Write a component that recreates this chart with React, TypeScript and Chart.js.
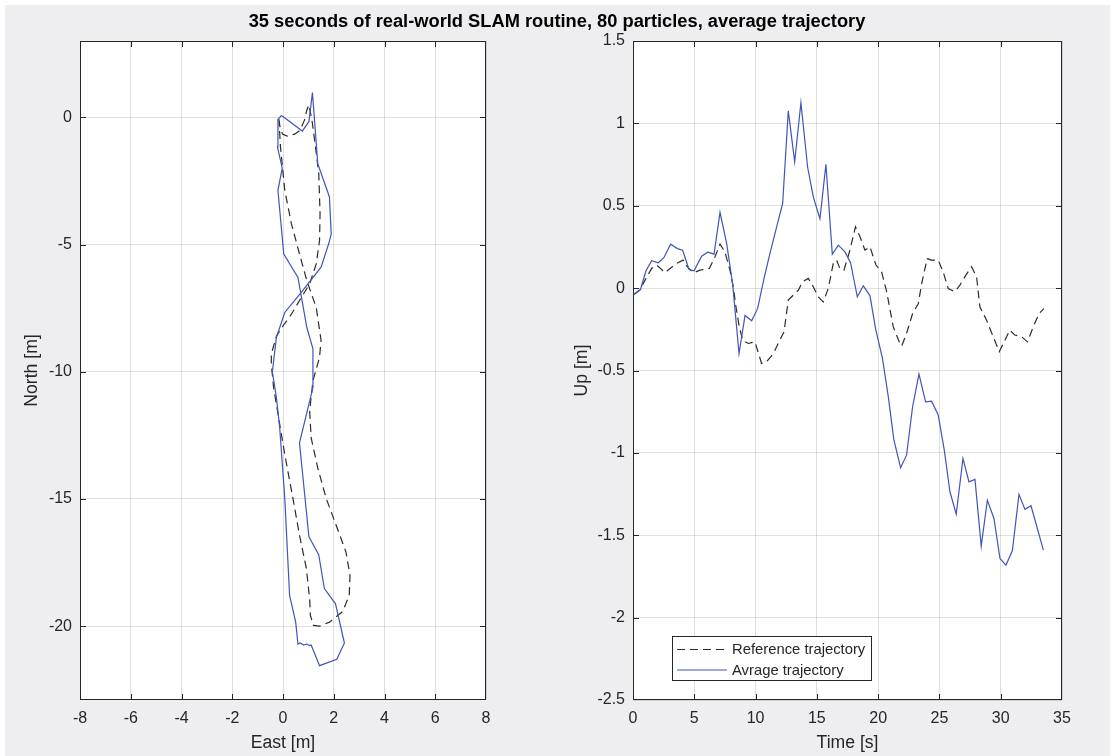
import React, { useEffect, useRef } from 'react';
import { Chart, registerables } from 'chart.js';

Chart.register(...registerables);

const FONT_FAMILY = '"Liberation Sans", Arial, Helvetica, sans-serif';
const AXIS_COLOR = '#262626';
const GRID_COLOR = 'rgba(38,38,38,0.15)';
const BLUE = '#4255b9';
const REF_COLOR = '#2b2b2b';
const FIG_BG = '#eeeef0';

const figureTitle = '35 seconds of real-world SLAM routine, 80 particles, average trajectory';
const legendLabels = ['Reference trajectory', 'Avrage trajectory'];

// ---------- Left subplot: East / North ----------
const refEast = [
  -0.16, -0.12, -0.02, 0.16, 0.46, 0.68, 0.85, 0.94, 1.02, 1.14, 1.28, 1.41, 1.46, 1.44, 1.31, 1.05,
  0.72, 0.33, 0.0, -0.26, -0.46, -0.46, -0.37, -0.13, 0.07, 0.39, 0.65, 0.92, 1.05, 1.08, 1.2, 1.44,
  1.83, 2.35, 2.61, 2.64, 2.48, 2.09, 1.7, 1.37, 1.11, 1.05, 1.18, 1.44, 1.5, 1.31, 0.94, 0.65, 0.33,
  0.07, -0.1, -0.16,
];
const refNorth = [
  -0.08, -0.37, -0.66, -0.74, -0.66, -0.5, -0.1, 0.29, 0.49, -0.1, -1.16, -2.21, -3.79, -4.84, -5.76, -6.55,
  -7.08, -7.74, -8.2, -8.6, -9.3, -9.7, -10.62, -12.07, -13.25, -14.97, -16.42, -17.73, -18.92, -19.58, -19.97, -20.0,
  -19.84, -19.42, -18.79, -18.0, -17.08, -16.02, -14.97, -13.78, -12.6, -11.54, -10.36, -9.43, -8.77, -7.47, -6.42, -5.37, -4.18,
  -2.87, -1.16, -0.08,
];
const avgEast = [
  -0.07, 0.04, 0.76, 1.02, 1.16, 1.37, 1.83, 1.9, 1.8, 1.5, 0.72, 0.07, -0.26, -0.42, -0.26, -0.13,
  0.07, 0.26, 0.5, 0.59, 0.68, 0.81, 0.94, 1.05, 1.11, 1.44, 2.12, 2.42, 2.07, 1.63, 1.41, 1.02,
  0.65, 1.18, 1.18, 0.94, 0.59, 0.03, -0.2, -0.03, -0.22, -0.2, -0.07,
];
const avgNorth = [
  0.07, 0.0, -0.54, -0.17, 0.97, -1.82, -3.13, -4.58, -4.97, -5.89, -6.88, -7.67, -8.65, -10.0, -11.0, -12.2,
  -14.97, -18.79, -19.84, -20.7, -20.66, -20.74, -20.7, -20.76, -20.74, -21.55, -21.3, -20.66, -19.12, -18.52, -17.2, -16.48,
  -12.79, -10.62, -9.1, -8.26, -6.29, -5.37, -2.87, -2.0, -1.16, -0.08, 0.07,
];
const eastTicks = [-8, -6, -4, -2, 0, 2, 4, 6, 8];
const northTicks = [-20, -15, -10, -5, 0];

// ---------- Right subplot: Time / Up ----------
const refTime = [
  0.05, 0.57, 1.06, 1.52, 1.93, 2.3, 2.61, 3.02, 3.56, 4.1, 4.38, 4.92, 5.46, 5.9, 6.23, 6.69, 7.1, 7.5,
  7.91, 8.18, 8.4, 8.67, 8.95, 9.41, 9.95, 10.49, 10.9, 11.45, 11.85, 12.32, 12.67, 13.08, 13.49, 13.84,
  14.3, 14.71, 15.12, 15.52, 15.93, 16.34, 16.61, 16.88, 17.21, 17.7, 18.15, 18.52, 18.92, 19.33, 19.82,
  20.28, 20.69, 21.23, 21.72, 21.92, 22.32, 22.81, 23.28, 23.55, 24.0, 24.36, 24.9, 25.3, 25.72, 26.26,
  26.67, 27.16, 27.62, 28.03, 28.3, 28.84, 29.39, 29.88, 30.34, 30.74, 31.15, 31.7, 32.19, 32.65, 33.14, 33.52,
];
const refUp = [
  -0.04, -0.008, 0.059, 0.119, 0.14, 0.115, 0.093, 0.119, 0.15, 0.17, 0.134, 0.093, 0.109, 0.115, 0.119, 0.19, 0.267, 0.22,
  0.109, 0.008, -0.113, -0.235, -0.316, -0.336, -0.326, -0.457, -0.447, -0.397, -0.336, -0.265, -0.073, -0.042, -0.012, 0.038,
  0.059, 0.008, -0.053, -0.083, -0.002, 0.15, 0.17, 0.119, 0.109, 0.231, 0.372, 0.312, 0.231, 0.251, 0.14,
  0.099, -0.02, -0.234, -0.326, -0.352, -0.275, -0.154, -0.093, 0.028, 0.179, 0.17, 0.17, 0.099, -0.002, -0.022,
  0.018, 0.079, 0.13, 0.069, -0.113, -0.194, -0.295, -0.386, -0.316, -0.255, -0.285, -0.295, -0.326, -0.235, -0.154, -0.124,
];
const avgTime = [
  0.05, 0.6, 1.06, 1.52, 2.07, 2.53, 3.07, 3.62, 4.05, 4.57, 4.98, 5.6, 6.09, 6.61, 7.1, 7.64, 8.13, 8.65,
  9.14, 9.68, 10.17, 10.69, 11.17, 11.72, 12.21, 12.67, 13.19, 13.7, 14.25, 14.71, 15.25, 15.74, 16.26, 16.75,
  17.29, 17.75, 18.3, 18.79, 19.33, 19.8, 20.35, 20.83, 21.28, 21.83, 22.32, 22.81, 23.33, 23.87, 24.36, 24.9,
  25.39, 25.86, 26.37, 26.92, 27.41, 27.9, 28.41, 28.91, 29.45, 29.94, 30.43, 30.95, 31.49, 31.98, 32.47, 32.99, 33.48,
];
const avgUp = [
  -0.04, -0.01, 0.105, 0.166, 0.154, 0.186, 0.267, 0.24, 0.23, 0.113, 0.105, 0.194, 0.218, 0.206, 0.459, 0.271, 0.024, -0.397,
  -0.166, -0.198, -0.123, 0.059, 0.21, 0.372, 0.514, 1.076, 0.767, 1.125, 0.732, 0.554, 0.421, 0.751, 0.206, 0.261,
  0.22, 0.154, -0.053, 0.014, -0.045, -0.25, -0.425, -0.66, -0.92, -1.09, -1.014, -0.72, -0.522, -0.69, -0.686, -0.77,
  -0.98, -1.236, -1.372, -1.034, -1.176, -1.161, -1.566, -1.287, -1.398, -1.641, -1.681, -1.594, -1.252, -1.343, -1.321, -1.459, -1.59,
];
const timeTicks = [0, 5, 10, 15, 20, 25, 30, 35];
const upTicks = [-2.5, -2, -1.5, -1, -0.5, 0, 0.5, 1, 1.5];

const TICK_LEN = 6;

const whiteAreaPlugin = {
  id: 'whiteArea',
  beforeDraw(chart: any) {
    const { ctx, chartArea: a } = chart;
    ctx.save();
    ctx.fillStyle = '#ffffff';
    ctx.fillRect(a.left, a.top, a.right - a.left, a.bottom - a.top);
    ctx.restore();
  },
};

const boxPlugin = {
  id: 'matlabBox',
  beforeDatasetsDraw(chart: any) {
    const { ctx, chartArea: a, scales } = chart;
    const xs = scales.x;
    const ys = scales.y;
    ctx.save();
    ctx.strokeStyle = AXIS_COLOR;
    ctx.lineWidth = 1;
    ctx.beginPath();
    xs.ticks.forEach((t: any) => {
      const px = Math.round(xs.getPixelForValue(t.value)) + 0.5;
      if (px < a.left + 2 || px > a.right - 2) return;
      ctx.moveTo(px, a.bottom);
      ctx.lineTo(px, a.bottom - TICK_LEN);
      ctx.moveTo(px, a.top);
      ctx.lineTo(px, a.top + TICK_LEN);
    });
    ys.ticks.forEach((t: any) => {
      const py = Math.round(ys.getPixelForValue(t.value)) + 0.5;
      if (py < a.top + 2 || py > a.bottom - 2) return;
      ctx.moveTo(a.left, py);
      ctx.lineTo(a.left + TICK_LEN, py);
      ctx.moveTo(a.right, py);
      ctx.lineTo(a.right - TICK_LEN, py);
    });
    ctx.stroke();
    ctx.strokeRect(a.left + 0.5, a.top + 0.5, a.right - a.left - 1, a.bottom - a.top - 1);
    ctx.restore();
  },
};

const legendPlugin = {
  id: 'matlabLegend',
  afterDraw(chart: any) {
    const { ctx, chartArea: a } = chart;
    const w = 200;
    const h = 45;
    const x0 = a.left + 39;
    const y0 = a.bottom - 19 - h;
    ctx.save();
    ctx.fillStyle = '#ffffff';
    ctx.fillRect(x0, y0, w, h);
    ctx.strokeStyle = AXIS_COLOR;
    ctx.lineWidth = 1;
    ctx.strokeRect(x0 + 0.5, y0 + 0.5, w - 1, h - 1);
    const items = [
      { label: legendLabels[0], color: REF_COLOR, dash: [8, 5] },
      { label: legendLabels[1], color: BLUE, dash: [] as number[] },
    ];
    items.forEach((it, i) => {
      const yy = y0 + 13.5 + i * 20.5;
      ctx.setLineDash(it.dash);
      ctx.strokeStyle = it.color;
      ctx.lineWidth = 1.2;
      ctx.beginPath();
      ctx.moveTo(x0 + 5, yy);
      ctx.lineTo(x0 + 55, yy);
      ctx.stroke();
      ctx.setLineDash([]);
      ctx.fillStyle = AXIS_COLOR;
      ctx.font = `14.8px ${FONT_FAMILY}`;
      ctx.textAlign = 'left';
      ctx.textBaseline = 'middle';
      ctx.fillText(it.label, x0 + 60, yy + 0.5);
    });
    ctx.restore();
  },
};

function makeScale(
  min: number,
  max: number,
  ticks: number[],
  title: string,
  horizontal: boolean,
  fixedSize: number,
  titlePad: number,
) {
  return {
    type: 'linear',
    position: horizontal ? 'bottom' : 'left',
    min,
    max,
    afterBuildTicks: (s: any) => {
      s.ticks = ticks.map((v) => ({ value: v }));
    },
    afterFit: (s: any) => {
      if (horizontal) s.height = fixedSize;
      else s.width = fixedSize;
    },
    grid: { color: GRID_COLOR, lineWidth: 1, drawTicks: false },
    border: { display: false },
    ticks: {
      padding: horizontal ? 9 : 8,
      color: AXIS_COLOR,
      font: { family: FONT_FAMILY, size: 16 },
      maxRotation: 0,
      autoSkip: false,
      callback: (v: any) => String(v),
    },
    title: {
      display: true,
      text: title,
      color: AXIS_COLOR,
      font: { family: FONT_FAMILY, size: 17.6 },
      padding: horizontal ? { top: 0, bottom: titlePad } : { top: titlePad, bottom: 0 },
    },
  };
}

function lineDataset(label: string, xs: number[], ys: number[], color: string, dash: number[], order: number) {
  return {
    label,
    data: xs.map((x, i) => ({ x, y: ys[i] })),
    showLine: true,
    borderColor: color,
    backgroundColor: color,
    borderWidth: 1.2,
    borderDash: dash,
    pointRadius: 0,
    tension: 0,
    fill: false,
    order,
  };
}

export default function App() {
  const leftRef = useRef<HTMLCanvasElement | null>(null);
  const rightRef = useRef<HTMLCanvasElement | null>(null);

  useEffect(() => {
    const common = {
      responsive: false,
      animation: false,
      devicePixelRatio: 1,
      events: [],
      plugins: { legend: { display: false }, tooltip: { enabled: false }, title: { display: false } },
    };
    const left = new Chart(leftRef.current as HTMLCanvasElement, {
      type: 'scatter',
      data: {
        datasets: [
          lineDataset(legendLabels[1], avgEast, avgNorth, BLUE, [], 0),
          lineDataset(legendLabels[0], refEast, refNorth, REF_COLOR, [8, 5], 1),
        ],
      },
      options: {
        ...common,
        layout: { padding: { left: 0, top: 41, right: 71, bottom: 0 } },
        scales: {
          x: makeScale(-8, 8, eastTicks, 'East [m]', true, 56, 2),
          y: makeScale(-22.9, 3, northTicks, 'North [m]', false, 80, 22),
        },
      },
      plugins: [whiteAreaPlugin, boxPlugin],
    } as any);
    const right = new Chart(rightRef.current as HTMLCanvasElement, {
      type: 'scatter',
      data: {
        datasets: [
          lineDataset(legendLabels[1], avgTime, avgUp, BLUE, [], 0),
          lineDataset(legendLabels[0], refTime, refUp, REF_COLOR, [8, 5], 1),
        ],
      },
      options: {
        ...common,
        layout: { padding: { left: 0, top: 41, right: 52, bottom: 0 } },
        scales: {
          x: makeScale(0, 35, timeTicks, 'Time [s]', true, 56, 2),
          y: makeScale(-2.5, 1.5, upTicks, 'Up [m]', false, 76, 15),
        },
      },
      plugins: [whiteAreaPlugin, boxPlugin, legendPlugin],
    } as any);
    return () => {
      left.destroy();
      right.destroy();
    };
  }, []);

  return (
    <div style={{ position: 'absolute', left: 0, top: 0, width: 1114, height: 756, background: '#ffffff', overflow: 'hidden' }}>
      <div style={{ position: 'absolute', left: 5, top: 5, width: 1105, height: 751, background: FIG_BG }} />
      <canvas ref={leftRef} width={557} height={756} style={{ position: 'absolute', left: 0, top: 0, width: 557, height: 756 }} />
      <canvas ref={rightRef} width={557} height={756} style={{ position: 'absolute', left: 557, top: 0, width: 557, height: 756 }} />
      <div
        style={{
          position: 'absolute',
          left: 0,
          top: 11,
          width: 1114,
          textAlign: 'center',
          fontFamily: FONT_FAMILY,
          fontWeight: 'bold',
          fontSize: 18.3,
          lineHeight: '20px',
          color: '#000000',
          whiteSpace: 'nowrap',
        }}
      >
        {figureTitle}
      </div>
    </div>
  );
}
